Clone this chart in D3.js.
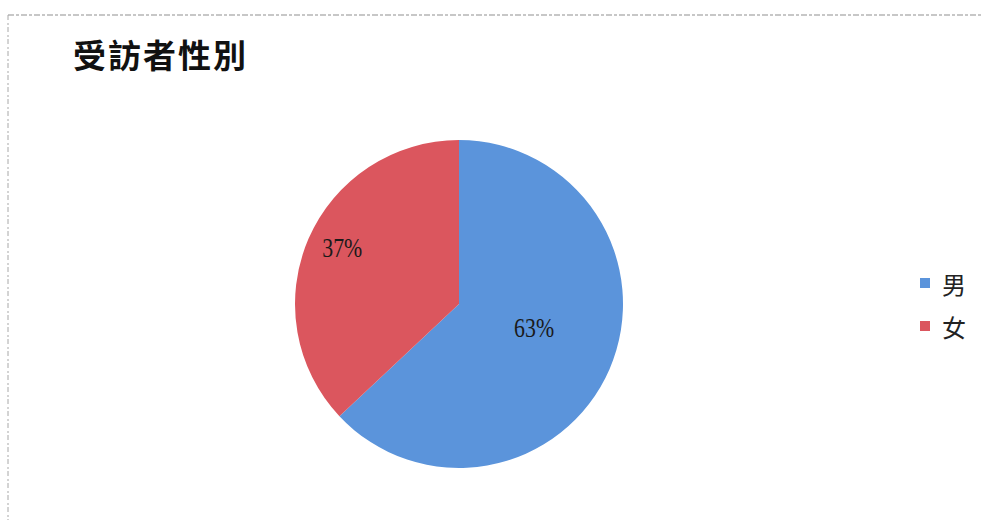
<!DOCTYPE html>
<html>
<head>
<meta charset="utf-8">
<script src="https://cdn.jsdelivr.net/npm/d3@7/dist/d3.min.js"></script>
<style>
  html, body { margin: 0; padding: 0; background: #fff; }
  svg { display: block; }
</style>
</head>
<body>
<svg id="chart" width="983" height="520"></svg>
<script>
// Respondent gender split
const categories = ["男", "女"];
const values = [63, 37];
const colors = ["#5b94db", "#db565e"];
// label placement per slice: radius as fraction of r, angular nudge in degrees
const labelRadiusFactor = [0.48, 0.79];
const labelAngleShift = [-6, 2.3];
const title = "受訪者性別";

const svg = d3.select("#chart");
const W = 983, H = 520;

// frame lines (dashed, scanned-page style)
svg.append("line").attr("x1", 8).attr("y1", 15).attr("x2", W).attr("y2", 15)
  .attr("stroke", "#8f8f8f").attr("stroke-width", 1).attr("stroke-dasharray", "6 2 3 2");
svg.append("line").attr("x1", 8).attr("y1", 15).attr("x2", 8).attr("y2", H)
  .attr("stroke", "#a8a8a8").attr("stroke-width", 1).attr("stroke-dasharray", "5 3 2 2");

// title
svg.append("text")
  .attr("x", 73).attr("y", 68)
  .attr("font-family", "'Noto Sans CJK TC', 'Noto Sans CJK SC', sans-serif")
  .attr("font-weight", "bold")
  .attr("font-size", 33)
  .attr("letter-spacing", 2)
  .attr("fill", "#111")
  .text(title);

// pie
const cx = 459, cy = 304, r = 164;
const pie = d3.pie().sort(null).value(d => d.value);
const data = categories.map((c, i) => ({
  name: c, value: values[i], color: colors[i],
  lr: labelRadiusFactor[i], la: labelAngleShift[i]
}));
const arcs = pie(data);
const arc = d3.arc().innerRadius(0).outerRadius(r);

const g = svg.append("g").attr("transform", `translate(${cx},${cy})`);
g.selectAll("path.slice").data(arcs).enter().append("path")
  .attr("class", "slice")
  .attr("d", arc)
  .attr("fill", d => d.data.color);

const total = d3.sum(values);
g.selectAll("text.lbl").data(arcs).enter().append("text")
  .attr("class", "lbl")
  .attr("transform", d => {
    const a = (d.startAngle + d.endAngle) / 2 + d.data.la * Math.PI / 180;
    const rr = r * d.data.lr;
    const x = Math.sin(a) * rr, y = -Math.cos(a) * rr;
    return `translate(${x},${y}) scale(0.78,1)`;
  })
  .attr("text-anchor", "middle")
  .attr("dominant-baseline", "central")
  .attr("font-family", "'Liberation Serif', 'DejaVu Serif', serif")
  .attr("font-size", 28)
  .attr("fill", "#1a1a1a")
  .text(d => Math.round(d.data.value / total * 100) + "%");

// legend
const legend = svg.append("g").attr("transform", "translate(920,283)");
const items = legend.selectAll("g").data(data).enter().append("g")
  .attr("transform", (d, i) => `translate(0,${i * 43})`);
items.append("rect").attr("x", 0).attr("y", -5).attr("width", 10).attr("height", 10)
  .attr("fill", d => d.color);
items.append("text").attr("x", 22).attr("y", 0)
  .attr("dominant-baseline", "central")
  .attr("font-family", "'Noto Sans CJK TC', sans-serif")
  .attr("font-size", 24)
  .attr("fill", "#222")
  .text(d => d.name);
</script>
</body>
</html>
